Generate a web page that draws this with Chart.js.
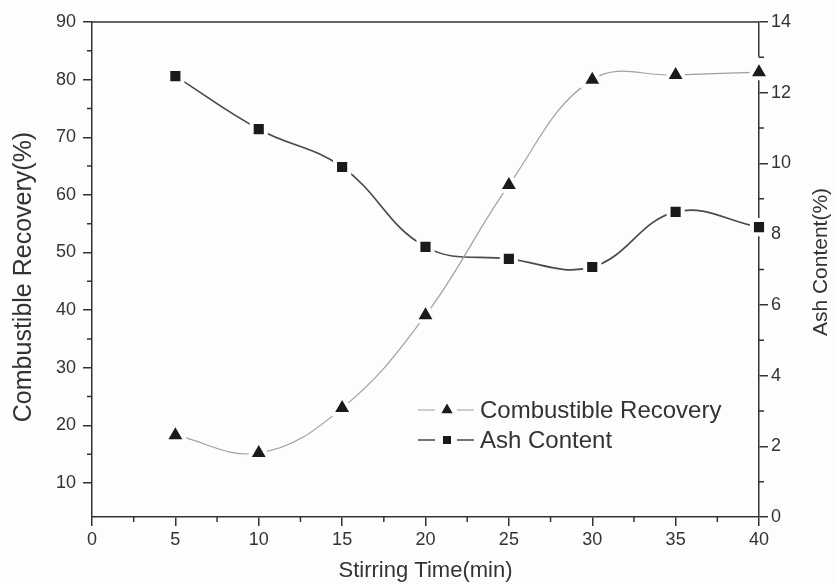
<!DOCTYPE html>
<html>
<head>
<meta charset="utf-8">
<script src="https://cdn.jsdelivr.net/npm/chart.js@4.4.0/dist/chart.umd.min.js"></script>
<style>
  html, body { margin: 0; padding: 0; background: #fdfdfd; }
  #wrap { width: 835px; height: 584px; }
</style>
</head>
<body>
<div id="wrap"><canvas id="chart" width="835" height="584"></canvas></div>
<script>
var stirTime = [5, 10, 15, 20, 25, 30, 35, 40];
var recovery = [18.3, 15.2, 23.0, 39.1, 61.7, 80.0, 80.8, 81.3];
var ashContent = [12.47, 10.97, 9.90, 7.64, 7.30, 7.07, 8.63, 8.20];
var leftTicks = [10, 20, 30, 40, 50, 60, 70, 80, 90];
var leftMinor = [15, 25, 35, 45, 55, 65, 75, 85];
var rightMinor = [1, 3, 5, 7, 9, 11, 13];
var xMinor = [2.5, 7.5, 12.5, 17.5, 22.5, 27.5, 32.5, 37.5];

var bg = '#fdfdfd';
var ink = '#333';
var font = 'Liberation Sans, Arial, sans-serif';

function pts(xs, ys) {
    return xs.map(function (x, i) { return { x: x, y: ys[i] }; });
}

// short minor ticks, top frame, rotated y titles and the legend
var extras = {
    id: 'extras',
    afterDraw: function (chart) {
        var ctx = chart.ctx;
        var a = chart.chartArea;
        var sx = chart.scales.x, sy = chart.scales.y, sy2 = chart.scales.y2;
        ctx.save();
        ctx.strokeStyle = ink;
        ctx.lineWidth = 1.5;
        ctx.beginPath();
        ctx.moveTo(a.left, a.top);
        ctx.lineTo(a.right, a.top);
        xMinor.forEach(function (v) {
            var px = sx.getPixelForValue(v);
            ctx.moveTo(px, a.bottom);
            ctx.lineTo(px, a.bottom + 5);
        });
        leftMinor.forEach(function (v) {
            var py = sy.getPixelForValue(v);
            ctx.moveTo(a.left, py);
            ctx.lineTo(a.left - 5, py);
        });
        rightMinor.forEach(function (v) {
            var py = sy2.getPixelForValue(v);
            ctx.moveTo(a.right, py);
            ctx.lineTo(a.right + 5, py);
        });
        ctx.stroke();

        // axis titles, both read bottom to top
        ctx.fillStyle = ink;
        ctx.textAlign = 'center';
        ctx.textBaseline = 'middle';
        ctx.save();
        ctx.translate(24, 277);
        ctx.rotate(-Math.PI / 2);
        ctx.font = '25px ' + font;
        ctx.fillText('Combustible Recovery(%)', 0, 0);
        ctx.restore();
        ctx.save();
        ctx.translate(821, 262);
        ctx.rotate(-Math.PI / 2);
        ctx.font = '21px ' + font;
        ctx.fillText('Ash Content(%)', 0, 0);
        ctx.restore();

        // legend
        var cols = [418, 447, 480];
        ctx.textAlign = 'left';
        chart.data.datasets.forEach(function (ds, i) {
            var y = 410 + i * 30;
            ctx.strokeStyle = ds.borderColor;
            ctx.lineWidth = ds.borderWidth;
            ctx.beginPath();
            ctx.moveTo(cols[0], y);
            ctx.lineTo(cols[0] + 17, y);
            ctx.moveTo(cols[1] + 10, y);
            ctx.lineTo(cols[1] + 27, y);
            ctx.stroke();
            ctx.fillStyle = ds.pointBackgroundColor;
            ctx.strokeStyle = bg;
            ctx.lineWidth = ds.pointBorderWidth;
            Chart.helpers.drawPoint(ctx, {
                pointStyle: ds.pointStyle,
                radius: ds.pointRadius - 1.5,
                borderWidth: ds.pointBorderWidth,
                rotation: 0
            }, cols[1], y);
            ctx.fillStyle = ink;
            ctx.font = '24px ' + font;
            ctx.fillText(ds.label, cols[2], y + 1);
        });
        ctx.restore();
    }
};

new Chart(document.getElementById('chart'), {
    type: 'line',
    data: {
        datasets: [
            {
                label: 'Combustible Recovery',
                yAxisID: 'y',
                data: pts(stirTime, recovery),
                borderColor: '#a0a0a0',
                borderWidth: 1.2,
                tension: 0.4,
                pointStyle: 'triangle',
                pointRadius: 12,
                pointBorderWidth: 4,
                pointBackgroundColor: '#1a1a1a',
                pointBorderColor: bg,
                clip: false
            },
            {
                label: 'Ash Content',
                yAxisID: 'y2',
                data: pts(stirTime, ashContent),
                borderColor: '#4a4a4a',
                borderWidth: 1.7,
                tension: 0.4,
                pointStyle: 'rect',
                pointRadius: 10,
                pointBorderWidth: 4,
                pointBackgroundColor: '#1a1a1a',
                pointBorderColor: bg,
                clip: false
            }
        ]
    },
    options: {
        responsive: false,
        animation: false,
        events: [],
        layout: { padding: { top: 22, left: 0, right: 0, bottom: 0 } },
        plugins: { legend: { display: false }, tooltip: { enabled: false } },
        scales: {
            x: {
                type: 'linear',
                min: 0,
                max: 40,
                afterFit: function (s) { s.height = 67; },
                ticks: { stepSize: 5, padding: 3, color: ink, font: { family: font, size: 18 }, maxRotation: 0 },
                grid: { drawOnChartArea: false, color: ink, lineWidth: 1.5, tickLength: 9 },
                border: { color: ink, width: 1.5 },
                title: { display: true, text: 'Stirring Time(min)', color: ink, font: { family: font, size: 22 }, padding: { top: 0, bottom: 0 } }
            },
            y: {
                type: 'linear',
                position: 'left',
                min: 4.1,
                max: 90,
                afterBuildTicks: function (s) { s.ticks = leftTicks.map(function (v) { return { value: v }; }); },
                afterFit: function (s) { s.width = 92; },
                ticks: { padding: 7, color: ink, font: { family: font, size: 18 } },
                grid: { drawOnChartArea: false, color: ink, lineWidth: 1.5, tickLength: 9 },
                border: { color: ink, width: 1.5 }
            },
            y2: {
                type: 'linear',
                position: 'right',
                min: 0,
                max: 14,
                afterFit: function (s) { s.width = 76; },
                ticks: { stepSize: 2, padding: 3, color: ink, font: { family: font, size: 18 } },
                grid: { drawOnChartArea: false, color: ink, lineWidth: 1.5, tickLength: 9 },
                border: { color: ink, width: 1.5 }
            }
        }
    },
    plugins: [extras]
});
</script>
</body>
</html>
